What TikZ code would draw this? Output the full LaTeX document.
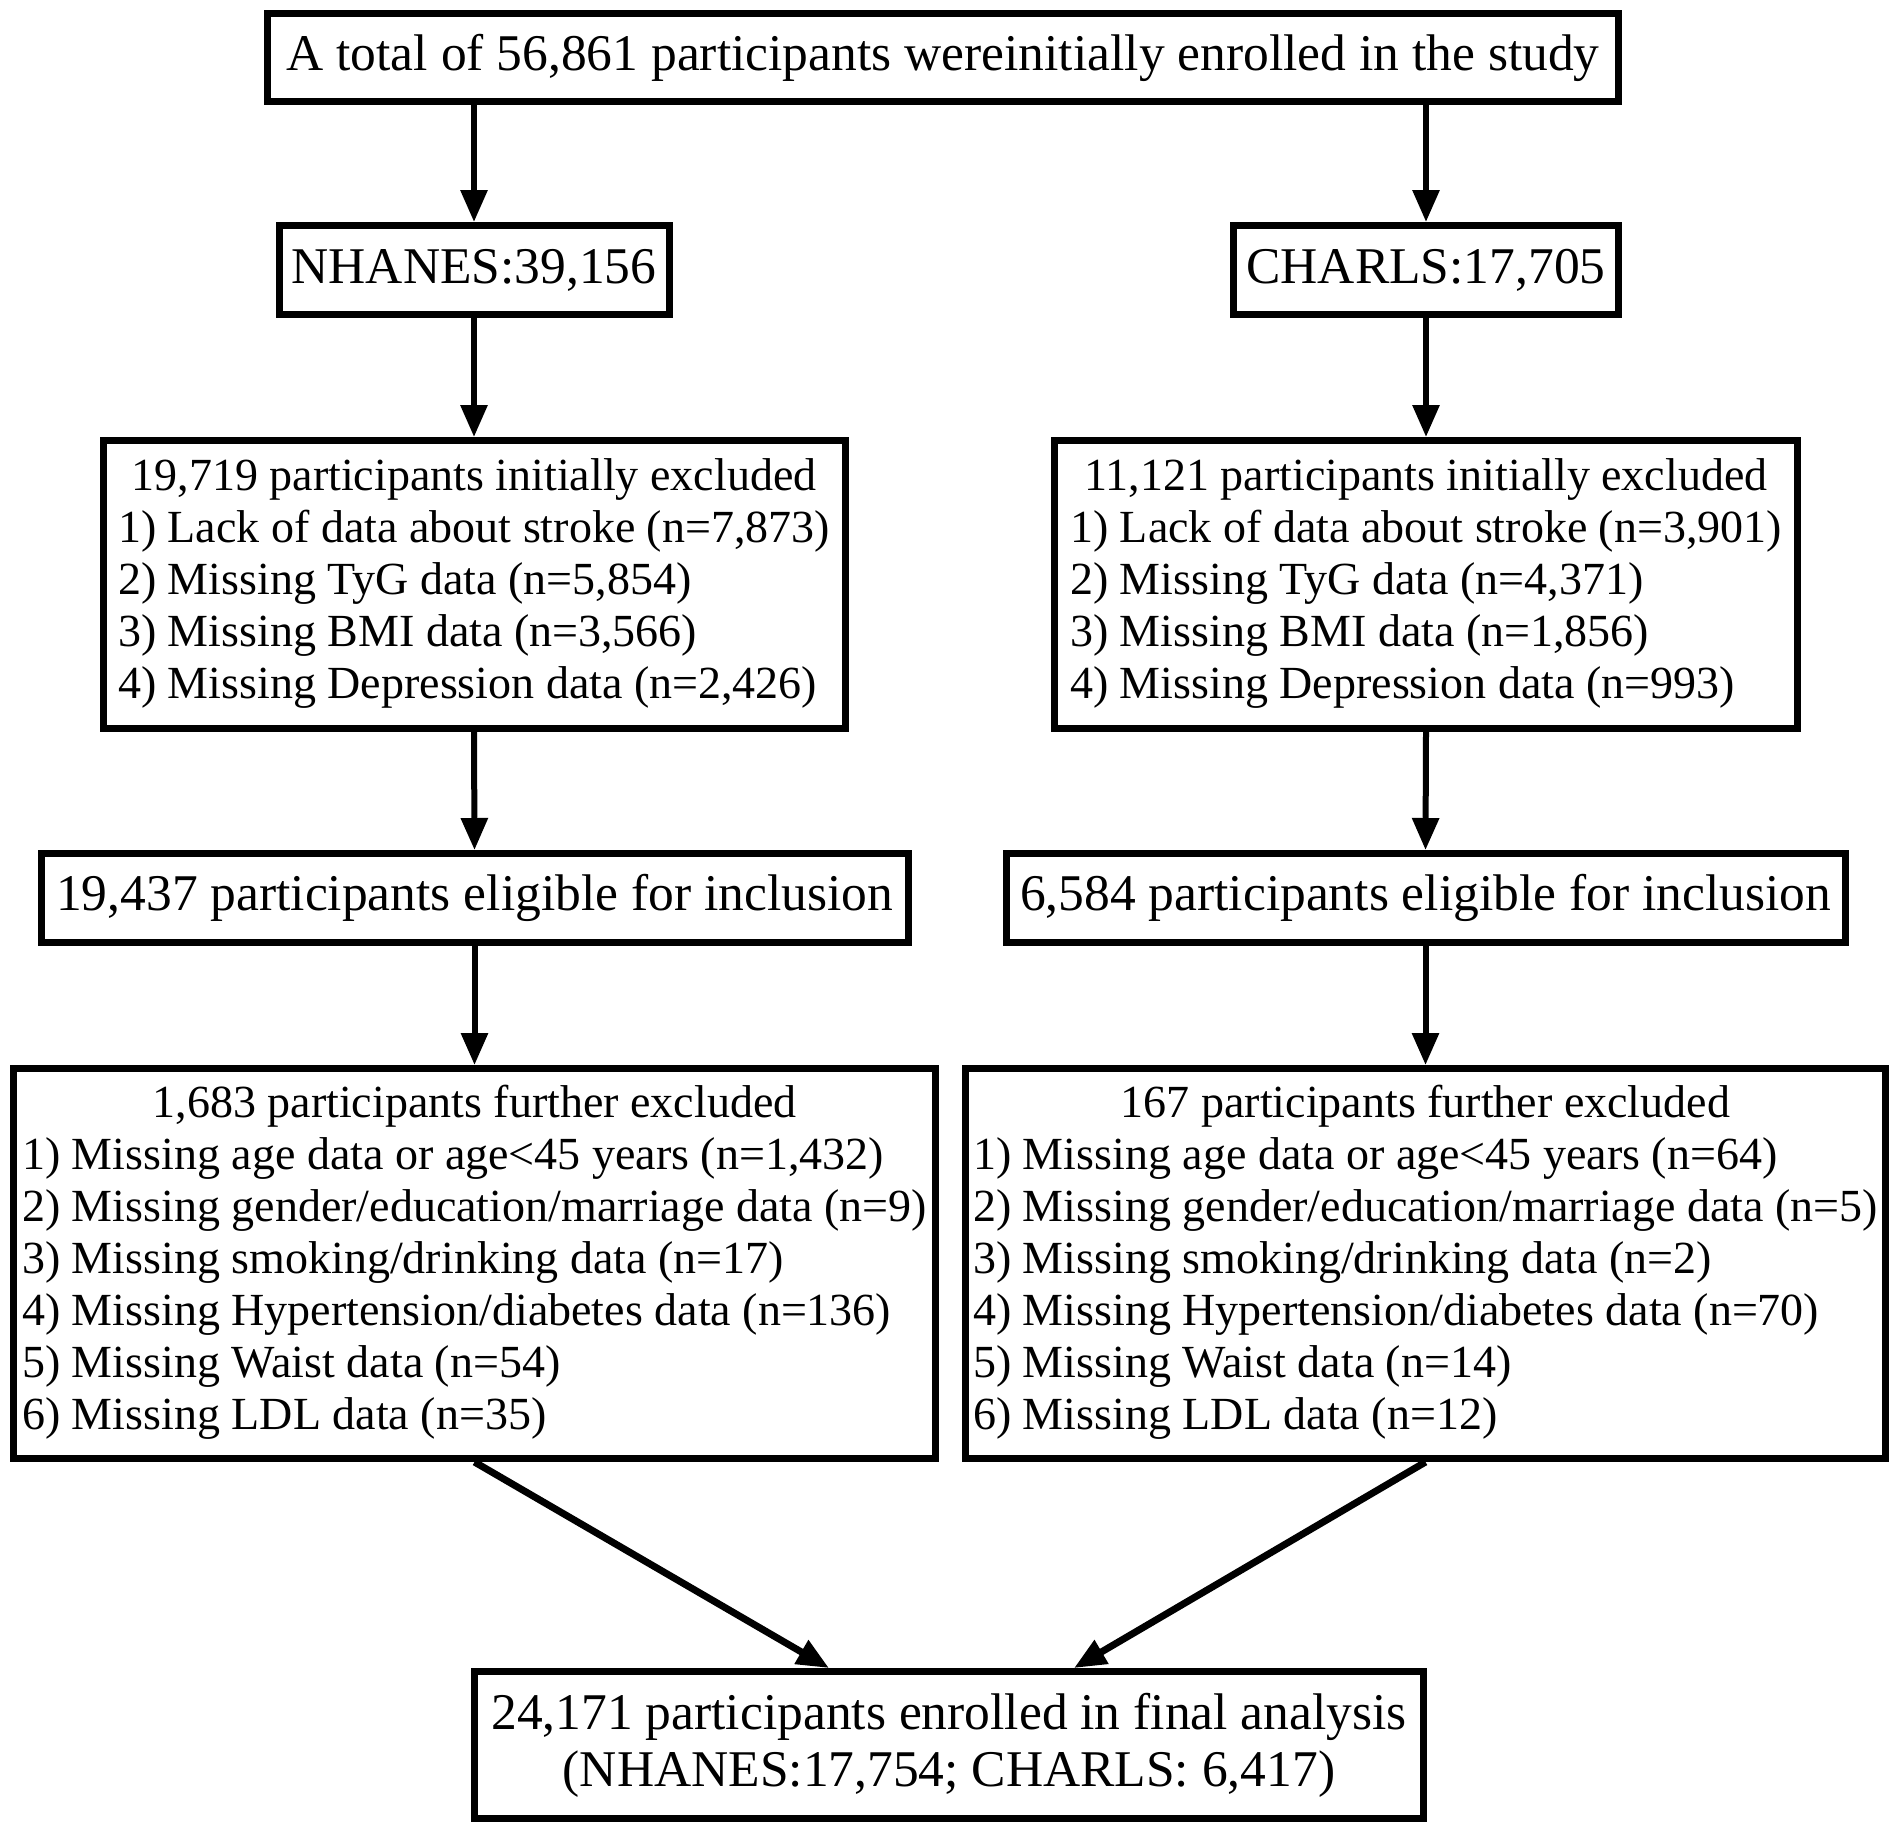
\documentclass[tikz,border=0pt]{standalone}
\usepackage{fontspec}
\setmainfont{Liberation Serif}
\usetikzlibrary{arrows.meta}
\tikzset{
  box/.style={draw, line width=7pt, rectangle, inner sep=0pt, align=center},
  bigtext/.style={font=\fontsize{51.5}{57}\selectfont},
  listtext/.style={font=\fontsize{46}{52}\selectfont},
  arr/.style={line width=6pt, -{Triangle[length=32pt,width=26pt]}},
}
\newcommand{\listbox}[2]{\raisebox{-6pt}{\begin{tabular}{@{}l@{}}\multicolumn{1}{@{}c@{}}{#1}\\#2\end{tabular}}}
\newcommand{\lowtext}[1]{\raisebox{-2pt}{#1}}
\begin{document}
\begin{tikzpicture}[x=1pt,y=-1pt]
\useasboundingbox (0,0) rectangle (1902,1834);

\node[box,bigtext,minimum width=1351pt,minimum height=88pt] (top) at (943,57.5)
  {\lowtext{A total of 56,861 participants wereinitially enrolled in the study}};

\node[box,bigtext,minimum width=390pt,minimum height=89pt] (nh) at (474,270) {\lowtext{NHANES:39,156}};
\node[box,bigtext,minimum width=385pt,minimum height=89pt] (ch) at (1426,270) {\lowtext{CHARLS:17,705}};

\node[box,listtext,minimum width=742pt,minimum height=288pt] (nh1) at (474,584.5)
  {\listbox{19,719 participants initially excluded}{%
   1) Lack of data about stroke (n=7,873)\\
   2) Missing TyG data (n=5,854)\\
   3) Missing BMI data (n=3,566)\\
   4) Missing Depression data (n=2,426)}};
\node[box,listtext,minimum width=743pt,minimum height=288pt] (ch1) at (1426,584.5)
  {\listbox{11,121 participants initially excluded}{%
   1) Lack of data about stroke (n=3,901)\\
   2) Missing TyG data (n=4,371)\\
   3) Missing BMI data (n=1,856)\\
   4) Missing Depression data (n=993)}};

\node[box,bigtext,minimum width=867pt,minimum height=89pt] (nh2) at (474.5,898)
  {\lowtext{19,437 participants eligible for inclusion}};
\node[box,bigtext,minimum width=839pt,minimum height=89pt] (ch2) at (1425.5,898)
  {\lowtext{6,584 participants eligible for inclusion}};

\node[box,listtext,minimum width=922pt,minimum height=390pt] (nh3) at (474.5,1263.5)
  {\listbox{1,683 participants further excluded}{%
   1) Missing age data or age<45 years (n=1,432)\\
   2) Missing gender/education/marriage data (n=9)\\
   3) Missing smoking/drinking data (n=17)\\
   4) Missing Hypertension/diabetes data (n=136)\\
   5) Missing Waist data (n=54)\\
   6) Missing LDL data (n=35)}};
\node[box,listtext,minimum width=920pt,minimum height=390pt] (ch3) at (1425.5,1263.5)
  {\listbox{167 participants further excluded}{%
   1) Missing age data or age<45 years (n=64)\\
   2) Missing gender/education/marriage data (n=5)\\
   3) Missing smoking/drinking data (n=2)\\
   4) Missing Hypertension/diabetes data (n=70)\\
   5) Missing Waist data (n=14)\\
   6) Missing LDL data (n=12)}};

\node[box,bigtext,minimum width=949pt,minimum height=147pt] (fin) at (949,1745)
  {24,171 participants enrolled in final analysis\\(NHANES:17,754; CHARLS: 6,417)};

\draw[arr] (top.south -| nh.north) -- (nh.north);
\draw[arr] (top.south -| ch.north) -- (ch.north);
\draw[arr] (nh.south) -- (nh1.north);
\draw[arr] (ch.south) -- (ch1.north);
\draw[arr] (nh1.south) -- (nh2.north);
\draw[arr] (ch1.south) -- (ch2.north);
\draw[arr] (nh2.south) -- (nh3.north);
\draw[arr] (ch2.south) -- (ch3.north);
\draw[arr,line width=7pt] (nh3.south) -- ([xshift=-120pt]fin.north);
\draw[arr,line width=7pt] (ch3.south) -- ([xshift=125pt]fin.north);
\end{tikzpicture}
\end{document}
